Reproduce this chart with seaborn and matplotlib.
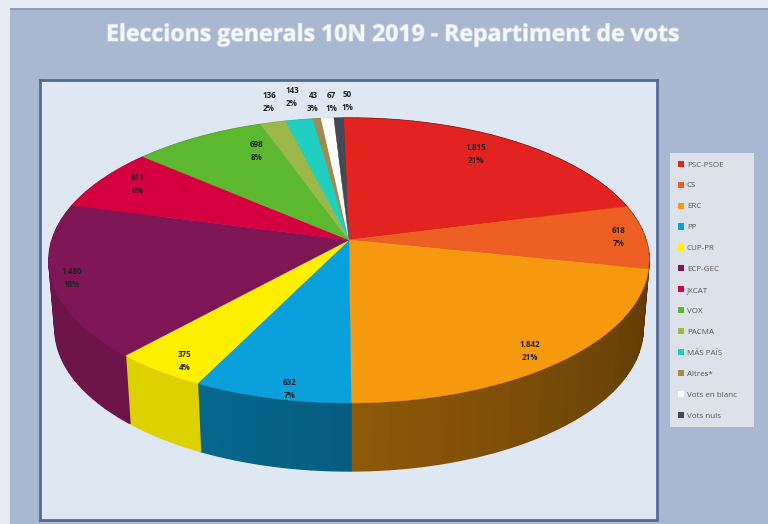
import numpy as np
import matplotlib
matplotlib.use("Agg")
import matplotlib.pyplot as plt
from matplotlib.patches import Patch, Rectangle
import matplotlib.patheffects as pe
import seaborn as sns

# ---- data -------------------------------------------------------------
parties = ["PSC-PSOE", "CS", "ERC", "PP", "CUP-PR", "ECP-GEC", "JXCAT", "VOX",
           "PACMA", "MÁS PAÍS", "Altres*", "Vots en blanc", "Vots nuls"]
votes = [1815, 618, 1842, 632, 375, 1480, 611, 698, 136, 143, 43, 67, 50]
vote_labels = ["1.815", "618", "1.842", "632", "375", "1.480", "611", "698",
               "136", "143", "43", "67", "50"]
pct_labels = ["21%", "7%", "21%", "7%", "4%", "18%", "6%", "8%",
              "2%", "2%", "3%", "1%", "1%"]
colors = ["#e2231f", "#ee5f24", "#f59a0f", "#0aa0dc", "#fff000", "#7f1757", "#d4003f",
          "#5cb82e", "#9cb84a", "#1fd0c0", "#a08a50", "#ffffff", "#444a55"]

# ---- layout (pixels of the 768x524 picture) ----------------------------
label_xy = [(476, 153), (619, 236), (530, 350), (290, 388), (185, 360), (72, 277),
            (138, 183), (257, 150), (269, 101), (292, 96), (313, 101), (331, 101), (347, 100)]
APEX = (349.0, 240.0)
K, A, B = 0.144, 139.5, 297.0     # perspective of the tilted disc
DEPTH, SHRINK = 68.0, 0.98
START = -1.2

sns.set_theme(style="white")
plt.rcParams["font.family"] = ["Open Sans", "DejaVu Sans"]
palette = sns.color_palette(colors)


def project(theta, depth=0.0):
    """Disc angle (degrees clockwise from 12 o'clock) to picture pixels."""
    t = np.radians(theta)
    d = 1 + K * np.cos(t)
    s = SHRINK if depth else 1.0
    return APEX[0] + s * B * np.sin(t) / d, APEX[1] - A * np.cos(t) / d + depth


def side_shade(theta):
    return np.interp(theta, [0, 102, 180, 206, 207, 220, 286, 360],
                     [0.4, 0.38, 0.58, 0.64, 0.87, 0.87, 0.85, 0.85])


fig = plt.figure(figsize=(7.68, 5.24), dpi=100, facecolor="#e4e9f4")
fig.add_artist(Rectangle((10 / 768, 0), 758 / 768, 516 / 524, transform=fig.transFigure,
                         facecolor="#a8b8d0", edgecolor="none", zorder=-5))
fig.add_artist(Rectangle((10 / 768, 514 / 524), 758 / 768, 2 / 524, transform=fig.transFigure,
                         facecolor="#8b9db8", edgecolor="none", zorder=-4))
ax = fig.add_axes([40 / 768, 1 - 520 / 524, 617 / 768, 440 / 524], facecolor="#dfe7f2")
ax.set_xlim(40, 657)
ax.set_ylim(520, 80)
ax.set_xticks([])
ax.set_yticks([])
for sp in ax.spines.values():
    sp.set_color("#566a96")
    sp.set_linewidth(2)

edges = np.concatenate([[0], np.cumsum(votes)]) / np.sum(votes) * 360.0 + START

# rim of the disc, shaded strip by strip
for i, col in enumerate(palette):
    n = max(2, int((edges[i + 1] - edges[i]) / 3) + 1)
    th = np.linspace(edges[i], edges[i + 1], n)
    for a, b in zip(th[:-1], th[1:]):
        ta = np.linspace(a, b, 8)
        xa, ya = project(ta)
        xb, yb = project(ta[::-1], DEPTH)
        f = side_shade(((a + b) / 2) % 360)
        ax.fill(np.r_[xa, xb], np.r_[ya, yb], color=tuple(c * f for c in col), lw=1.0,
                zorder=2, capstyle="butt")

# top of the disc
for i, col in enumerate(palette):
    th = np.linspace(edges[i], edges[i + 1], 80)
    x, y = project(th)
    ax.fill(np.r_[APEX[0], x], np.r_[APEX[1], y], color=col, lw=0.3, zorder=3)

# data labels
for (lx, ly), v, p in zip(label_xy, vote_labels, pct_labels):
    ax.text(lx, ly - 6, v, ha="center", va="center", fontsize=5.8, fontweight="bold",
            color="#222222", zorder=5)
    ax.text(lx, ly + 7, p, ha="center", va="center", fontsize=5.8, fontweight="bold",
            color="#222222", zorder=5)

# legend
handles = [Patch(facecolor=c, edgecolor="none", label=n) for c, n in zip(palette, parties)]
leg = fig.legend(handles=handles, loc="upper left",
                 bbox_to_anchor=(670 / 768, 1 - 425 / 524, 84 / 768, 272 / 524),
                 mode="expand", borderaxespad=0, ncol=1, fontsize=5.8, labelcolor="#555555",
                 frameon=True, fancybox=False, facecolor="#dde2ea", edgecolor="none", framealpha=1,
                 borderpad=0.95, labelspacing=1.62, handlelength=0.8, handleheight=0.8,
                 handletextpad=0.35)

# title
fig.text(392 / 768, 1 - 35 / 524, "Eleccions generals 10N 2019 - Repartiment de vots",
         ha="center", va="center", fontsize=16.6, fontweight="bold", color="#f4f7fb",
         path_effects=[pe.withStroke(linewidth=1.0, foreground="#c7d3e4")])

fig.savefig("out.png", dpi=100, facecolor=fig.get_facecolor())
